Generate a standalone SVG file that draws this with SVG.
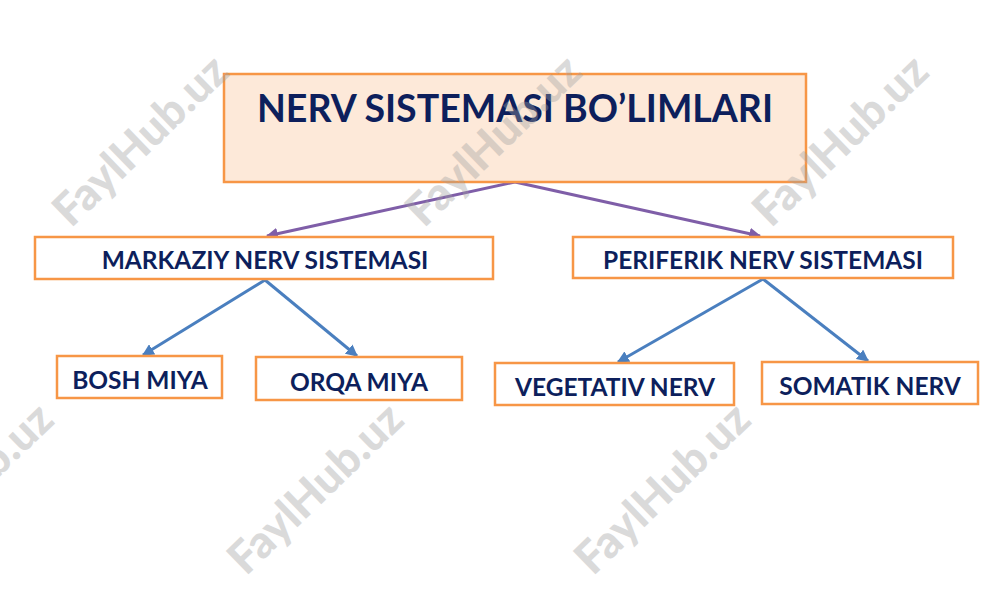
<svg xmlns="http://www.w3.org/2000/svg" width="1000" height="596" viewBox="0 0 1000 596">
<style>
.box{fill:#ffffff;stroke:#f79646;stroke-width:2.5}
.title{fill:#fde9d9;stroke:#f79646;stroke-width:2.5}
.t{font-family:Lato,"Liberation Sans",sans-serif;font-weight:bold;fill:#0d1f5c;text-anchor:middle}
.s{font-size:24.5px}
.c1{stroke:#7f5ea8;stroke-width:3;fill:none}
.c2{stroke:#4a7fbf;stroke-width:3;fill:none}
.wm{font-family:Lato,"Liberation Sans",sans-serif;font-weight:900;font-size:45px;fill:#a0a0a0;opacity:0.38;text-anchor:middle}
</style>
<defs>
<marker id="ap" viewBox="0 0 10 10" refX="9" refY="5" markerWidth="4" markerHeight="4" orient="auto" markerUnits="strokeWidth"><path d="M0,0 L10,5 L0,10 z" fill="#7f5ea8"/></marker>
<marker id="ab" viewBox="0 0 10 10" refX="9" refY="5" markerWidth="4" markerHeight="4" orient="auto" markerUnits="strokeWidth"><path d="M0,0 L10,5 L0,10 z" fill="#4a7fbf"/></marker>
</defs>
<rect width="1000" height="596" fill="#ffffff"/>
<g id="connectors">
<line class="c1" x1="515" y1="182" x2="267" y2="236" marker-end="url(#ap)"/>
<line class="c1" x1="515" y1="182" x2="760" y2="236" marker-end="url(#ap)"/>
<line class="c2" x1="265" y1="280" x2="143" y2="355" marker-end="url(#ab)"/>
<line class="c2" x1="265" y1="280" x2="357" y2="356" marker-end="url(#ab)"/>
<line class="c2" x1="763" y1="279" x2="618" y2="362" marker-end="url(#ab)"/>
<line class="c2" x1="763" y1="279" x2="868" y2="361" marker-end="url(#ab)"/>
</g>
<g id="n-title"><rect class="title" x="224" y="74" width="582" height="108"/><text class="t" x="515" y="122" font-size="37.5">NERV SISTEMASI BO’LIMLARI</text></g>
<g id="n-markaziy"><rect class="box" x="35" y="237" width="458" height="42"/><text class="t s" x="265" y="269">MARKAZIY NERV SISTEMASI</text></g>
<g id="n-periferik"><rect class="box" x="573" y="237" width="380" height="41"/><text class="t s" x="763" y="269">PERIFERIK NERV SISTEMASI</text></g>
<g id="n-bosh"><rect class="box" x="57" y="356" width="165" height="42"/><text class="t s" x="140" y="389">BOSH MIYA</text></g>
<g id="n-orqa"><rect class="box" x="256" y="357" width="206" height="43"/><text class="t s" x="359" y="391">ORQA MIYA</text></g>
<g id="n-vegetativ"><rect class="box" x="495" y="363" width="239" height="42"/><text class="t s" x="615" y="396">VEGETATIV NERV</text></g>
<g id="n-somatik"><rect class="box" x="762" y="362" width="216" height="42"/><text class="t s" x="870" y="395">SOMATIK NERV</text></g>
<g id="watermarks">
<text class="wm" transform="translate(140,140) rotate(-44)" y="16">FaylHub.uz</text>
<text class="wm" transform="translate(493,140) rotate(-44)" y="16">FaylHub.uz</text>
<text class="wm" transform="translate(840,140) rotate(-44)" y="16">FaylHub.uz</text>
<text class="wm" transform="translate(-35,488) rotate(-44)" y="16">FaylHub.uz</text>
<text class="wm" transform="translate(315,488) rotate(-44)" y="16">FaylHub.uz</text>
<text class="wm" transform="translate(662,488) rotate(-44)" y="16">FaylHub.uz</text>
</g>
</svg>
